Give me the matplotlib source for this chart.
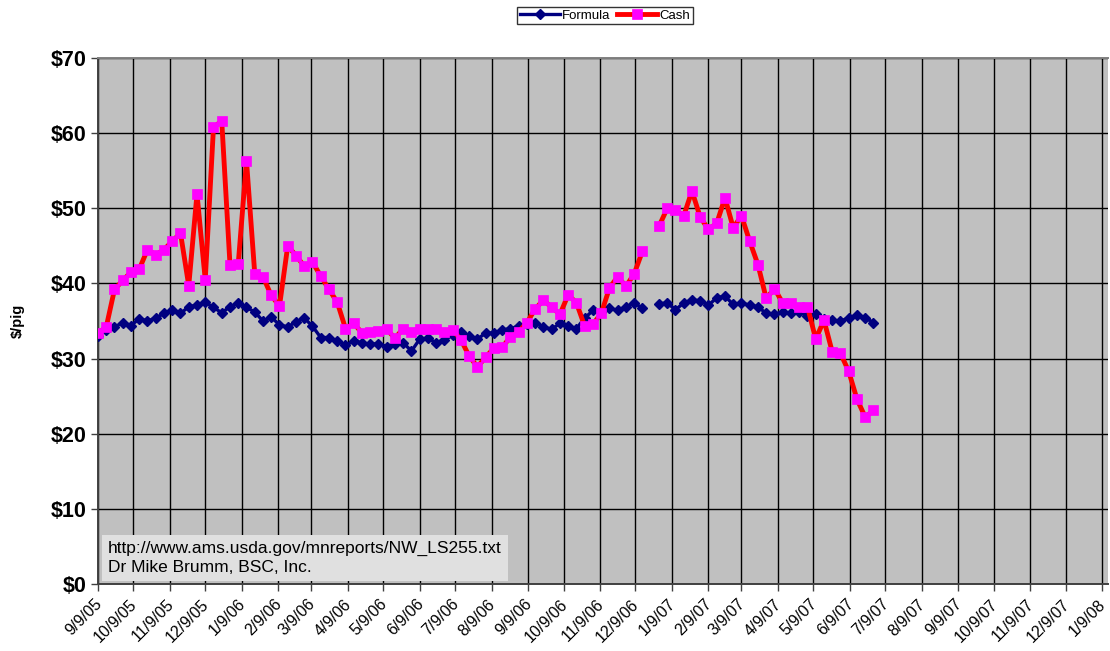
import matplotlib
matplotlib.use("Agg")
import matplotlib.pyplot as plt
import matplotlib.transforms as mtransforms
import numpy as np
import pandas as pd

plt.rcParams["font.family"] = ["Liberation Sans", "DejaVu Sans"]

# weekly series, first week 9/9/05; week index 67 (holiday week) has no report
START = "2005-09-09"
N_WEEKS = 95

formula = [
    33.0, 33.8, 34.2, 34.8, 34.4, 35.3, 35.0, 35.4, 36.0, 36.4,
    36.0, 36.9, 37.1, 37.5, 36.8, 36.1, 36.9, 37.4, 36.8, 36.2,
    35.0, 35.5, 34.5, 34.2, 34.9, 35.4, 34.3, 32.8, 32.8, 32.3,
    31.8, 32.3, 32.1, 31.9, 32.0, 31.6, 32.0, 32.1, 31.0, 32.6,
    32.7, 32.1, 32.5, 33.1, 33.6, 33.0, 32.6, 33.4, 33.4, 33.8,
    34.0, 34.3, 34.6, 34.8, 34.2, 33.9, 34.7, 34.3, 34.0, 35.4,
    36.4, 36.2, 36.7, 36.4, 36.9, 37.4, 36.7, None, 37.3, 37.4,
    36.5, 37.4, 37.8, 37.7, 37.1, 38.1, 38.3, 37.2, 37.4, 37.1,
    36.9, 36.0, 35.9, 36.2, 36.0, 36.2, 35.7, 35.9, 35.3, 35.1,
    35.0, 35.4, 35.8, 35.4, 34.8,
]

cash = [
    33.4, 34.2, 39.2, 40.4, 41.5, 41.9, 44.5, 43.8, 44.5, 45.6,
    46.7, 39.7, 51.9, 40.5, 60.8, 61.6, 42.5, 42.6, 56.3, 41.3,
    40.9, 38.4, 37.0, 45.0, 43.7, 42.3, 42.8, 41.0, 39.2, 37.5,
    34.0, 34.7, 33.4, 33.6, 33.7, 33.9, 32.7, 34.0, 33.6, 34.0,
    33.9, 33.9, 33.6, 33.8, 32.5, 30.3, 28.9, 30.2, 31.4, 31.5,
    32.9, 33.6, 34.8, 36.6, 37.8, 36.8, 35.9, 38.5, 37.4, 34.3,
    34.6, 36.0, 39.4, 40.9, 39.6, 41.3, 44.3, None, 47.6, 50.0,
    49.8, 49.0, 52.3, 48.8, 47.2, 48.0, 51.4, 47.4, 49.0, 45.6,
    42.5, 38.0, 39.3, 37.4, 37.4, 36.8, 36.9, 32.6, 35.1, 30.9,
    30.7, 28.3, 24.6, 22.2, 23.1,
]

y_ticks = [0, 10, 20, 30, 40, 50, 60, 70]
N_MONTH_TICKS = 29

note = "http://www.ams.usda.gov/mnreports/NW_LS255.txt\nDr Mike Brumm, BSC, Inc."


def main() -> None:
    weeks = pd.date_range(START, periods=N_WEEKS, freq="7D")
    f_vals = np.array([np.nan if v is None else v for v in formula])
    c_vals = np.array([np.nan if v is None else v for v in cash])

    start = pd.Timestamp(START)
    tick_dates = [start + pd.DateOffset(months=i) for i in range(N_MONTH_TICKS)]
    tick_labels = [f"{d.month}/{d.day}/{d.year % 100:02d}" for d in tick_dates]

    fig = plt.figure(figsize=(11.1, 6.51), dpi=100)
    ax = fig.add_axes([98 / 1110, 1 - 584 / 651, 1010 / 1110, 526 / 651])
    ax.set_facecolor("#C0C0C0")

    ax.plot(weeks, f_vals, color="#000080", linewidth=2.4, marker="D",
            markersize=5.0, markerfacecolor="#000080", markeredgecolor="#000080",
            label="Formula", zorder=3)
    ax.plot(weeks, c_vals, color="#FF0000", linewidth=3.5, marker="s",
            markersize=6.5, markerfacecolor="#FF00FF", markeredgecolor="#FF00FF",
            markeredgewidth=0.5, label="Cash", zorder=4)

    ax.set_ylim(0, 70)
    ax.set_yticks(y_ticks)
    ax.set_yticklabels([f"${v}" for v in y_ticks], fontsize=15.5, fontweight="bold")
    ax.set_xlim(start, tick_dates[-1] + pd.Timedelta(days=5))
    ax.set_xticks(tick_dates)
    ax.set_xticklabels(tick_labels, rotation=45, ha="right", rotation_mode="anchor",
                       fontsize=11.5)
    ax.tick_params(axis="both", direction="out", length=5, width=1, color="#404040")
    ax.tick_params(axis="x", pad=4)
    ax.tick_params(axis="y", pad=3)

    # labels sit a little left of their ticks, as in the original
    shift = mtransforms.ScaledTranslation(-4 / 100, 0, fig.dpi_scale_trans)
    for lab in ax.get_xticklabels():
        lab.set_transform(lab.get_transform() + shift)

    ax.grid(True, color="black", linewidth=1.0)
    ax.set_axisbelow(True)

    for side in ("left", "bottom"):
        ax.spines[side].set_color("#404040")
        ax.spines[side].set_linewidth(1.4)
    ax.spines["top"].set_color("#808080")
    ax.spines["top"].set_linewidth(1.4)
    ax.spines["right"].set_visible(False)

    ax.set_ylabel("$/pig", fontsize=10.5, fontweight="bold", va="center")
    ax.yaxis.set_label_coords(-80 / 1010, 0.5)

    ax.text(10 / 1010, 9 / 526, note, transform=ax.transAxes, fontsize=12.5,
            ha="left", va="bottom", linespacing=1.3,
            bbox=dict(boxstyle="square,pad=0.35", facecolor="#E0E0E0", edgecolor="none"),
            zorder=5)

    leg = fig.legend(loc="center", bbox_to_anchor=(605 / 1110, 1 - 15.5 / 651),
                     ncol=2, fontsize=9.5, frameon=True, fancybox=False,
                     edgecolor="black", handlelength=3.0, handletextpad=0.2,
                     columnspacing=0.5, borderpad=0.2)
    leg.get_frame().set_linewidth(1.0)

    fig.savefig("out.png", dpi=100, facecolor="white")


if __name__ == "__main__":
    main()
